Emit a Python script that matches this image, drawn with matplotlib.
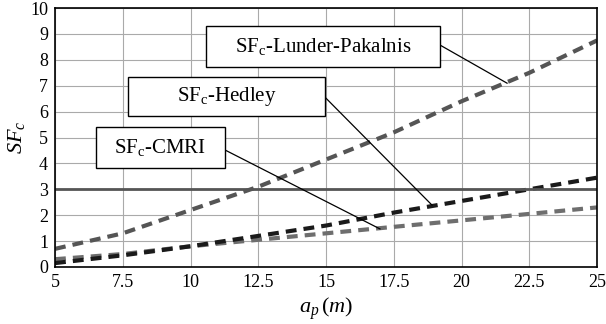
import matplotlib
matplotlib.use("Agg")
import matplotlib.pyplot as plt
from matplotlib.patches import Rectangle

plt.rcParams['font.family'] = ['Liberation Serif', 'DejaVu Serif']
plt.rcParams['mathtext.fontset'] = 'custom'
plt.rcParams['mathtext.rm'] = 'Liberation Serif'
plt.rcParams['mathtext.it'] = 'Liberation Serif:italic'

# valores
ap = [5, 7.5, 10, 12.5, 15, 17.5, 20, 22.5, 25]
sf_lunder = [0.7, 1.3, 2.2, 3.1, 4.15, 5.2, 6.4, 7.5, 8.75]
sf_hedley = [0.15, 0.45, 0.8, 1.2, 1.6, 2.1, 2.55, 3.0, 3.45]
sf_cmri = [0.3, 0.5, 0.8, 1.05, 1.3, 1.55, 1.8, 2.05, 2.3]
sf_limite = 3

xticks = [5, 7.5, 10, 12.5, 15, 17.5, 20, 22.5, 25]
xtick_labels = ['5', '7.5', '10', '12.5', '15', '17.5', '20', '22.5', '25']

fig = plt.figure(figsize=(6.06, 3.24), dpi=100)
ax = fig.add_axes([0.0908, 0.176, 0.8944, 0.799])

ax.plot(ap, sf_lunder, color='#555555', lw=3, ls=(0, (2.6, 1.7)))
ax.plot(ap, sf_cmri, color='#6e6e6e', lw=3, ls=(0, (2.6, 1.7)))
ax.plot(ap, sf_hedley, color='#1a1a1a', lw=3, ls=(0, (2.6, 1.7)))
ax.axhline(sf_limite, color='#555555', lw=2)

ax.set_xlim(5, 25)
ax.set_ylim(0, 10)
ax.set_xticks(xticks)
ax.set_xticklabels(xtick_labels)
ax.set_yticks(range(0, 11))
ax.tick_params(length=0, labelsize=13, pad=5)
ax.grid(True, color='#aaaaaa', lw=0.8)
ax.set_axisbelow(True)
for s in ax.spines.values():
    s.set_linewidth(1.2)

ax.set_xlabel(r'$a_p\,(m)$', fontsize=16, labelpad=3)
ax.set_ylabel(r'$SF_c$', fontsize=16, labelpad=2)

# cajas de etiquetas con lineas guia
etiquetas = [
    (r'SF$_\mathregular{c}$-Lunder-Pakalnis', (10.56, 7.73, 19.21, 9.31), (19.21, 8.57), (21.68, 7.10)),
    (r'SF$_\mathregular{c}$-Hedley', (7.68, 5.84, 14.96, 7.35), (14.96, 6.56), (18.91, 2.39)),
    (r'SF$_\mathregular{c}$-CMRI', (6.50, 3.81, 11.27, 5.39), (11.27, 4.52), (16.99, 1.47)),
]
for texto, (x0, y0, x1, y1), p0, p1 in etiquetas:
    ax.plot([p0[0], p1[0]], [p0[1], p1[1]], color='black', lw=0.9, zorder=4)
    ax.add_patch(Rectangle((x0, y0), x1 - x0, y1 - y0, facecolor='white',
                           edgecolor='black', lw=1, zorder=5))
    ax.text((x0 + x1) / 2, (y0 + y1) / 2, texto, ha='center', va='center',
            fontsize=15, zorder=6)

fig.savefig('out.png', dpi=100)
